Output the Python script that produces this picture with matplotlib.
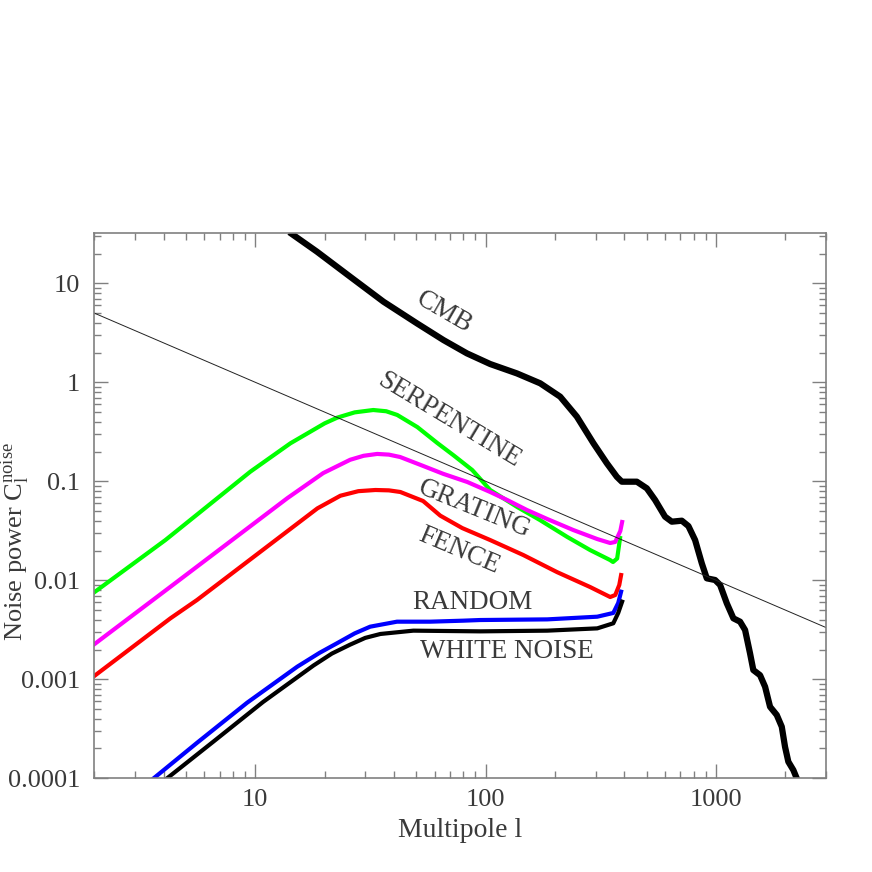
import numpy as np
import matplotlib
matplotlib.use('Agg')
import matplotlib.pyplot as plt
from matplotlib.ticker import FixedLocator, LogLocator, NullFormatter

# Valores (multipolo l, potencia C_l)
cmb_l = [14.4, 18.5, 25.8, 36.0, 50.3, 65.6, 82.9, 104.6, 136.6, 172.4, 210.5, 248.7,
         293.6, 335.7, 370.9, 389.9, 452.9, 500.5, 543.7, 600.6, 642.3, 710, 758.4,
         810.8, 866.9, 911.2, 990, 1041, 1113, 1189, 1271, 1336, 1404, 1451, 1552,
         1632, 1715, 1834, 1928, 1992, 2059, 2165, 2239]
cmb_c = [31.5, 20.9, 11.66, 6.52, 3.94, 2.67, 1.96, 1.53, 1.23, 0.977, 0.716, 0.45,
         0.242, 0.152, 0.111, 0.0991, 0.0991, 0.0849, 0.0647, 0.0439, 0.0391, 0.040,
         0.0353, 0.0255, 0.01485, 0.01047, 0.01007, 0.00897, 0.00586, 0.00413, 0.00382,
         0.00315, 0.00183, 0.00124, 0.0011, 0.000841, 0.000528, 0.000436, 0.000332,
         0.000208, 0.000147, 0.000121, 0.0001]

serp_l = [2.0, 4.07, 9.51, 14.2, 17.85, 20.0, 22.7, 27.0, 32.5, 37.0, 41.3, 50.5,
          61.6, 72.3, 87.4, 104.6, 137, 172, 226, 284, 347, 357, 372, 383]
serp_c = [0.00757, 0.0255, 0.125, 0.242, 0.33, 0.385, 0.44, 0.497, 0.525, 0.51,
          0.468, 0.353, 0.244, 0.184, 0.130, 0.0817, 0.055, 0.0406, 0.0274, 0.0202,
          0.0160, 0.0153, 0.0166, 0.0267]

grat_l = [2.0, 4.28, 13.8, 19.7, 25.8, 29.5, 33.8, 38.0, 42.5, 53.5, 65.4, 83.2,
          104.6, 124, 151, 185, 240, 305, 347, 365, 384, 391]
grat_c = [0.00226, 0.0086, 0.0678, 0.121, 0.165, 0.181, 0.189, 0.186, 0.176, 0.143,
          0.119, 0.0984, 0.078, 0.0647, 0.0513, 0.0416, 0.0322, 0.0261, 0.0238, 0.0244,
          0.0315, 0.0388]

fence_l = [2.0, 4.28, 5.58, 18.6, 23.4, 28.0, 33.2, 38.0, 42.6, 53.5, 63.5, 79.1,
           104.6, 145.6, 204, 284, 347, 365, 380, 387]
fence_c = [0.00108, 0.00413, 0.00632, 0.0533, 0.0715, 0.0795, 0.0817, 0.081, 0.078,
           0.0632, 0.045, 0.0337, 0.0255, 0.018, 0.0121, 0.00855, 0.00678, 0.0071,
           0.00897, 0.0113]

rand_l = [3.62, 5.58, 9.21, 15.2, 19.0, 22.6, 27.0, 31.5, 41.2, 57.4, 79.8, 94.6,
          185, 305, 358, 376, 387]
rand_c = [0.0001, 0.000228, 0.00058, 0.00134, 0.00185, 0.00231, 0.00291, 0.0034,
          0.00382, 0.00382, 0.00391, 0.00397, 0.00403, 0.00429, 0.00468, 0.0059, 0.00767]

white_l = [4.14, 6.58, 10.8, 17.9, 21.5, 25.8, 30.0, 34.9, 48.5, 94.6, 185, 305,
           358, 376, 391]
white_c = [0.0001, 0.000235, 0.00059, 0.00138, 0.00182, 0.00224, 0.00262, 0.00287,
           0.0031, 0.00305, 0.0031, 0.00327, 0.00368, 0.00468, 0.00608]

# reta de referencia C = 10 / l
ref_l = [2.0, 3000.0]
ref_c = [5.0, 10.0 / 3000.0]

ytick_vals = [1e-4, 1e-3, 1e-2, 1e-1, 1, 10]
ytick_txt = ['0.0001', '0.001', '0.01', '0.1', '1', '10']
xtick_vals = [10, 100, 1000]
xtick_txt = ['10', '100', '1000']

plt.rcParams['font.family'] = ['Liberation Serif', 'DejaVu Serif']
plt.rcParams['mathtext.fontset'] = 'custom'
plt.rcParams['mathtext.rm'] = 'Liberation Serif'
plt.rcParams['mathtext.it'] = 'Liberation Serif'

txt_cor = '#3a3a3a'
eixo_cor = '#808080'

fig = plt.figure(figsize=(8.72, 8.72), dpi=100)
ax = fig.add_axes([94.3 / 872, 1 - 778.3 / 872, (826 - 94.3) / 872, (778.3 - 233.3) / 872])
ax.set_xscale('log')
ax.set_yscale('log')
ax.set_xlim(2, 3000)
ax.set_ylim(1e-4, 32)

ax.plot(serp_l, serp_c, color='#00ff00', lw=3, solid_joinstyle='round')
ax.plot(grat_l, grat_c, color='#ff00ff', lw=3, solid_joinstyle='round')
ax.plot(fence_l, fence_c, color='#ff0000', lw=3, solid_joinstyle='round')
ax.plot(rand_l, rand_c, color='#0000ff', lw=3, solid_joinstyle='round')
ax.plot(white_l, white_c, color='black', lw=3, solid_joinstyle='round')
ax.plot(cmb_l, cmb_c, color='black', lw=4.5, solid_joinstyle='round')
ax.plot(ref_l, ref_c, color='#222222', lw=0.7)

# rotulos das curvas (posicao em pixels da figura)
kw = dict(fontsize=19.5, color=txt_cor, ha='center', va='center', rotation_mode='anchor')


def rotulo(px, py, s, ang):
    fig.text(px / 872, 1 - py / 872, s, rotation=ang, **kw)


rotulo(444, 312, 'CMB', -30)
rotulo(449, 420, 'SERPENTINE', -31)
rotulo(474, 509, 'GRATING', -22)
rotulo(459, 551, 'FENCE', -23)
rotulo(472, 602, 'RANDOM', 0)
rotulo(507, 652, 'WHITE NOISE', 0)

ax.xaxis.set_major_locator(FixedLocator(xtick_vals))
ax.set_xticklabels(xtick_txt)
ax.yaxis.set_major_locator(FixedLocator(ytick_vals))
ax.set_yticklabels(ytick_txt)
ax.xaxis.set_minor_locator(LogLocator(base=10, subs=np.arange(2, 10), numticks=20))
ax.yaxis.set_minor_locator(LogLocator(base=10, subs=np.arange(2, 10), numticks=20))
ax.xaxis.set_minor_formatter(NullFormatter())
ax.yaxis.set_minor_formatter(NullFormatter())
ax.tick_params(which='both', direction='in', top=True, right=True, color=eixo_cor,
               labelcolor=txt_cor, labelsize=19, width=1)
ax.tick_params(which='major', length=10)
ax.tick_params(which='minor', length=5)
ax.tick_params(axis='y', which='major', pad=10)
ax.tick_params(axis='x', which='major', pad=8)
for s in ax.spines.values():
    s.set_color(eixo_cor)
    s.set_linewidth(1.2)

ax.set_xlabel('Multipole l', fontsize=20, color=txt_cor, labelpad=5)
fig.text(23 / 872, 1 - 542 / 872, r'Noise power C$_{\rm l}^{\rm noise}$', fontsize=19,
         color=txt_cor, rotation=90, ha='center', va='baseline', rotation_mode='anchor')

fig.savefig('out.png', dpi=100)
